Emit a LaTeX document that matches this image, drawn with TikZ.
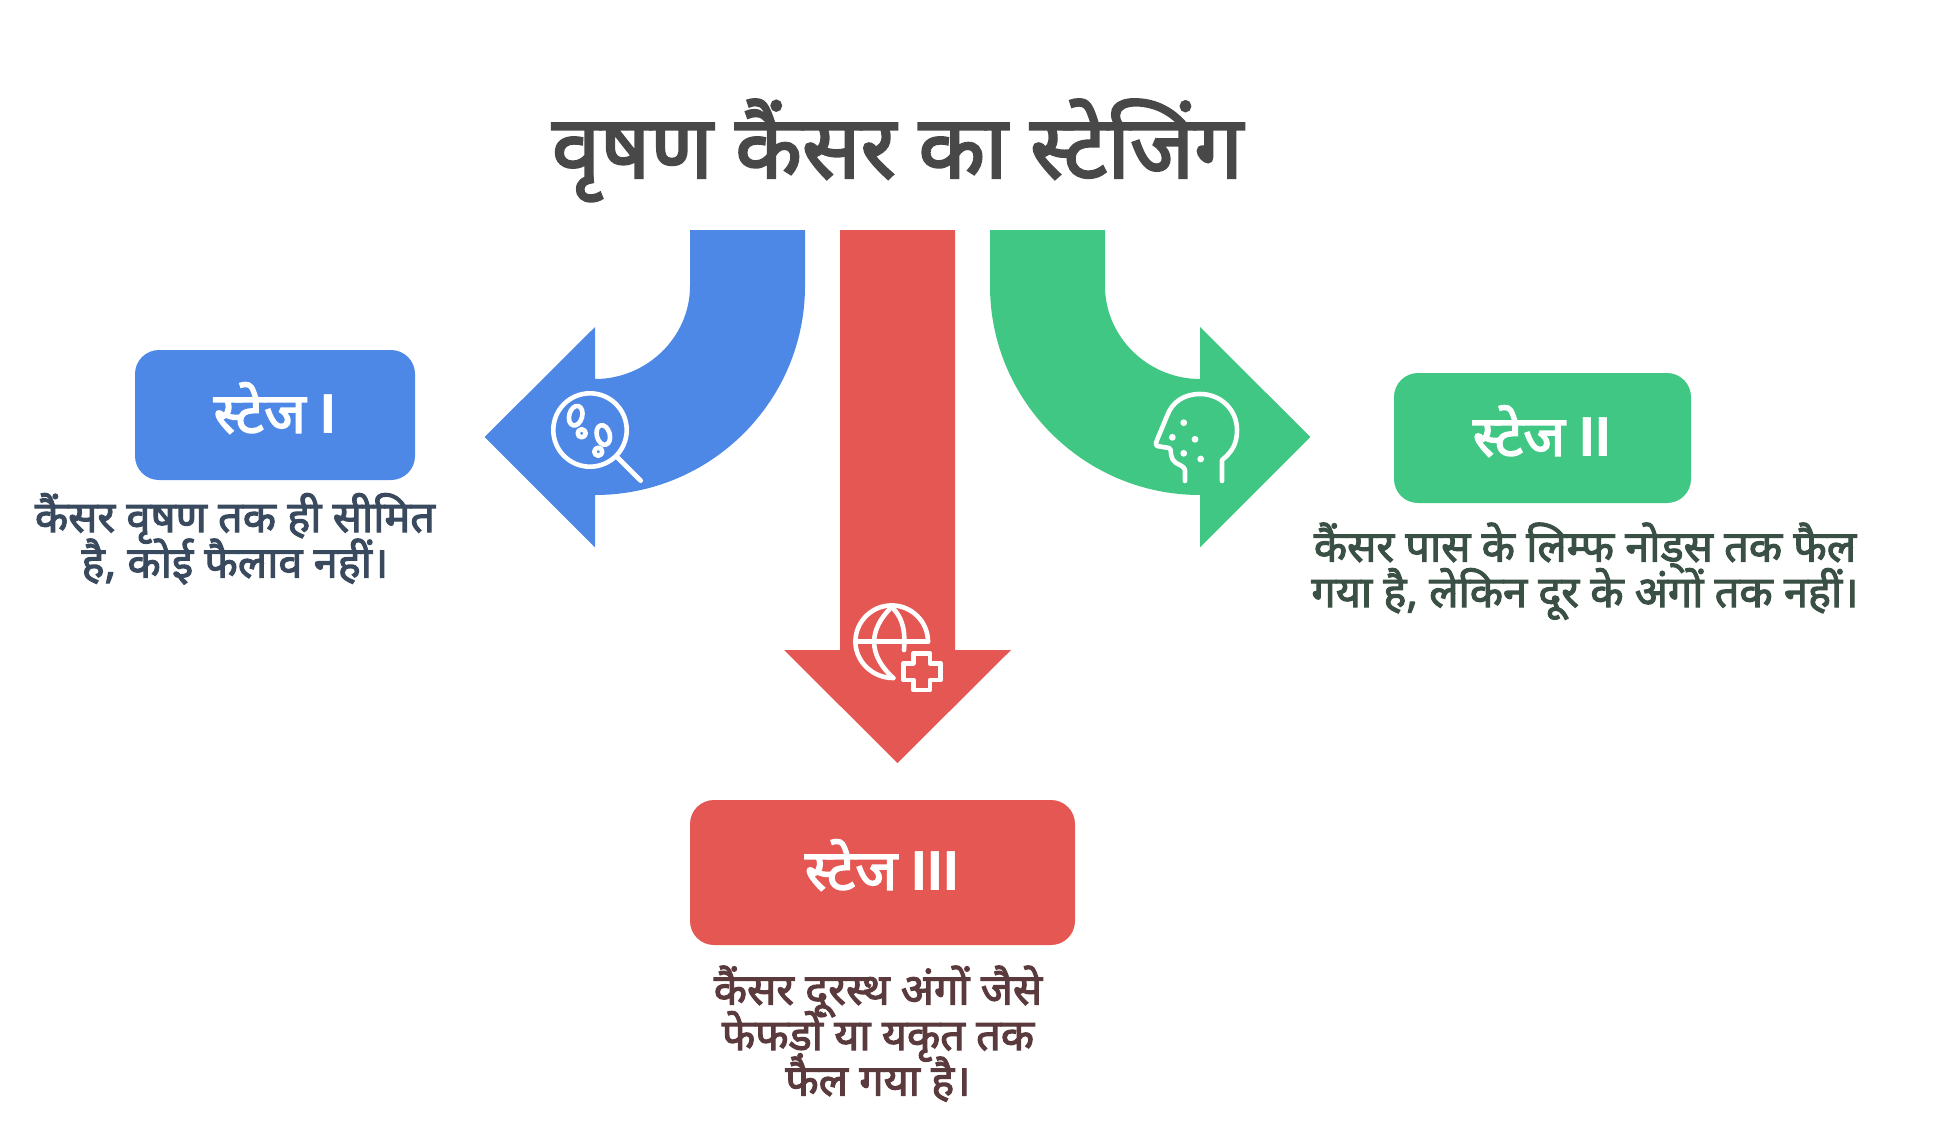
\documentclass[tikz,border=0pt]{standalone}
\usepackage{fontspec}
\newfontfamily\hiT[Script=Devanagari,FakeStretch=0.985,FakeBold=2.5]{Noto Sans}
\newfontfamily\hiC[Script=Devanagari,FakeStretch=1.0,FakeBold=2.5]{Noto Sans}
\newfontfamily\latb{Liberation Sans}
\normallineskiplimit=-100pt
\lineskiplimit=-100pt
\definecolor{cblue}{HTML}{4E88E7}
\definecolor{cgreen}{HTML}{3FC783}
\definecolor{cred}{HTML}{E55753}
\definecolor{ctitle}{HTML}{484848}
\definecolor{tblue}{HTML}{3A4A5E}
\definecolor{tgreen}{HTML}{3A5045}
\definecolor{tred}{HTML}{5A3A3C}
\tikzset{
  stagebox/.style={fill=#1,rounded corners=24pt,inner sep=0pt},
  stagelabel/.style={anchor=base,inner sep=0pt,text=white,font=\hiC\fontsize{56.5}{56.5}\selectfont},
  captiontext/.style={anchor=base,inner sep=0pt,align=center,text=#1,font=\hiC\fontsize{43.3}{45.5}\selectfont},
  icon/.style={draw=white,line width=4.6pt,line cap=round,line join=round},
  icondot/.style={fill=white,draw=none}
}
\begin{document}
\begin{tikzpicture}[x=1pt,y=-1pt]
\useasboundingbox (0,0) rectangle (1935,1130);
% arrows
\fill[cblue] (690,230) -- (690,286) .. controls (690,337) and (647,379) .. (595,379)
  -- (595,327) -- (484.6,437) -- (595,547.4) -- (595,495)
  .. controls (711,495) and (805,401) .. (805,286) -- (805,230) -- cycle;
\fill[cgreen] (1105,230) -- (1105,286) .. controls (1105,337) and (1148,379) .. (1200,379)
  -- (1200,327) -- (1310.4,437) -- (1200,547.4) -- (1200,495)
  .. controls (1084,495) and (990,401) .. (990,286) -- (990,230) -- cycle;
\fill[cred] (840,230) -- (840,650) -- (784,650) -- (897.5,763) -- (1011,650) -- (955,650) -- (955,230) -- cycle;
% title
\node[anchor=base,inner sep=0pt,text=ctitle,font=\hiT\fontsize{88}{88}\selectfont] (title) at (897.5,178) {वृषण कैंसर का स्टेजिंग};
% boxes
\node[stagebox=cblue,minimum width=280pt,minimum height=130pt] (b1) at (275,415) {};
\node[stagebox=cgreen,minimum width=297pt,minimum height=130pt] (b2) at (1542.5,438) {};
\node[stagebox=cred,minimum width=385pt,minimum height=145pt] (b3) at (882.5,872.5) {};
\node[stagelabel] (l1) at (275,433) {स्टेज {\latb\bfseries I}};
\node[stagelabel] (l2) at (1542,456) {स्टेज {\latb\bfseries II}};
\node[stagelabel] (l3) at (882,890) {स्टेज {\latb\bfseries III}};
% captions
\node[captiontext=tblue] (c1) at (235,577.5) {कैंसर वृषण तक ही सीमित\\है, कोई फैलाव नहीं।};
\node[captiontext=tgreen] (c2) at (1585,607) {कैंसर पास के लिम्फ नोड्स तक फैल\\गया है, लेकिन दूर के अंगों तक नहीं।};
\node[captiontext=tred] (c3) at (878,1095.5) {कैंसर दूरस्थ अंगों जैसे\\फेफड़ों या यकृत तक\\फैल गया है।};
% magnifier icon
\draw[icon] (590,430) circle (36.7);
\draw[icon] (617.3,457.3) -- (640.7,480.7);
\draw[icon,rotate around={-15:(575.7,415.7)}] (575.7,415.7) ellipse (6.5 and 10);
\draw[icon,rotate around={15:(603.3,435)}] (603.3,435) ellipse (6.5 and 10);
\draw[icon] (581.7,433.3) circle (4);
\draw[icon] (598.3,451.7) circle (4);
% face icon
\draw[icon] (1185,481) -- (1185,470) .. controls (1185,468) and (1183,467) .. (1180,465)
  .. controls (1173,462) and (1171,459) .. (1170.7,450) -- (1169,448)
  -- (1157,446) .. controls (1155,445) and (1156,443) .. (1157,440)
  -- (1167,416) .. controls (1172,402) and (1184,394) .. (1200,394)
  .. controls (1221,394) and (1237,410) .. (1237,430)
  .. controls (1237,444) and (1232,452) .. (1222,460) -- (1222,481);
\foreach \n/\x/\y in {a/1183.7/422.7,b/1172.3/437.3,c/1195/439.3,d/1183.7/453.3,e/1200.7/459}
  \fill[icondot] (\x,\y) circle (3.4);
% globe icon
\draw[icon] (928,641.7) .. controls (928,621.7) and (911.7,605.4) .. (891.7,605.4)
  .. controls (871.7,605.4) and (855.4,621.7) .. (855.4,641.7)
  .. controls (855.4,661) and (872,678) .. (893.3,678);
\draw[icon] (855.4,641.7) -- (928,641.7);
\draw[icon] (891.7,607) .. controls (868,630) and (868,655) .. (893.3,678);
\draw[icon] (891.7,607) .. controls (905,620) and (905,635) .. (904,650);
\draw[icon] (913.3,663.3) -- (913.3,653.3) -- (930,653.3) -- (930,663.3) -- (940.7,663.3) -- (940.7,680) -- (930,680) -- (930,690) -- (913.3,690) -- (913.3,680) -- (903.3,680) -- (903.3,663.3) -- cycle;
\end{tikzpicture}
\end{document}
